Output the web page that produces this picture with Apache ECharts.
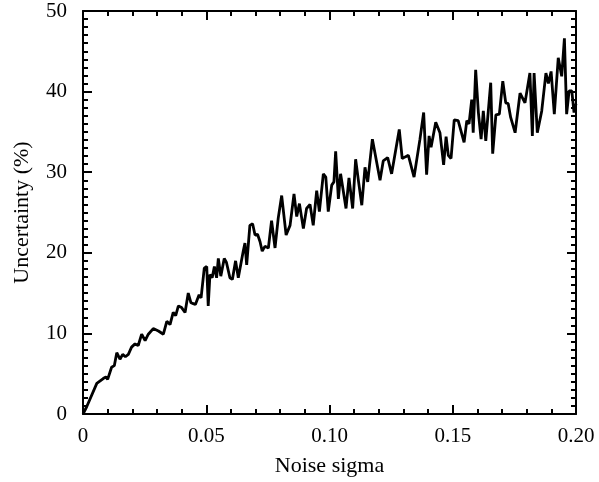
<!DOCTYPE html>
<html>
<head>
<meta charset="utf-8">
<script src="https://cdn.jsdelivr.net/npm/echarts@6/dist/echarts.min.js"></script>
<style>
  html, body { margin: 0; padding: 0; background: #fff; }
  #chart { width: 599px; height: 482px; }
</style>
</head>
<body>
<div id="chart"></div>
<script>
// noise sigma values (x)
var sigma = [
  0, 0.0015, 0.0056, 0.0082, 0.0093, 0.0100, 0.0116, 0.0127, 0.0137, 0.0150,
  0.0161, 0.0172, 0.0184, 0.0197, 0.0211, 0.0224, 0.0238, 0.0252, 0.0265, 0.0285,
  0.0306, 0.0326, 0.0340, 0.0353, 0.0366, 0.0376, 0.0387, 0.0400, 0.0414, 0.0427,
  0.0438, 0.0447, 0.0456, 0.0471, 0.0479, 0.0492, 0.0502, 0.0508, 0.0515, 0.0524,
  0.0533, 0.0542, 0.0549, 0.0559, 0.0573, 0.0582, 0.0596, 0.0606, 0.0619, 0.0630,
  0.0650, 0.0657, 0.0664, 0.0677, 0.0688, 0.0698, 0.0708, 0.0718, 0.0727, 0.0738,
  0.0752, 0.0765, 0.0779, 0.0792, 0.0806, 0.0824, 0.0840, 0.0856, 0.0867, 0.0878,
  0.0894, 0.0907, 0.0921, 0.0934, 0.0948, 0.0959, 0.0975, 0.0985, 0.0995, 0.1009,
  0.1018, 0.1025, 0.1036, 0.1045, 0.1067, 0.1079, 0.1094, 0.1106, 0.1118, 0.1131,
  0.1144, 0.1155, 0.1174, 0.1205, 0.1218, 0.1236, 0.1252, 0.1283, 0.1295, 0.1307,
  0.1320, 0.1343, 0.1367, 0.1382, 0.1394, 0.1404, 0.1412, 0.1431, 0.1448, 0.1463,
  0.1473, 0.1482, 0.1493, 0.1506, 0.1522, 0.1546, 0.1557, 0.1566, 0.1577, 0.1583,
  0.1593, 0.1604, 0.1615, 0.1624, 0.1634, 0.1654, 0.1662, 0.1675, 0.1689, 0.1703,
  0.1715, 0.1725, 0.1735, 0.1753, 0.1773, 0.1793, 0.1813, 0.1823, 0.1830, 0.1843,
  0.1861, 0.1878, 0.1888, 0.1899, 0.1912, 0.1928, 0.1942, 0.1953, 0.1962, 0.1972,
  0.1983, 0.1992, 0.2000
];
// uncertainty (%) at each sigma
var uncertainty = [
  0, 0.9, 3.8, 4.4, 4.6, 4.3, 5.8, 6.0, 7.6, 6.8,
  7.4, 7.1, 7.4, 8.3, 8.7, 8.5, 9.9, 9.1, 9.9, 10.6,
  10.3, 9.9, 11.5, 11.1, 12.6, 12.2, 13.4, 13.2, 12.6, 15.0,
  13.8, 13.7, 13.6, 14.8, 14.4, 18.1, 18.3, 13.4, 17.3, 16.9,
  18.3, 16.9, 19.3, 17.1, 19.3, 18.8, 16.9, 16.7, 19.0, 16.9,
  20.2, 21.2, 18.5, 23.4, 23.6, 22.2, 22.3, 21.4, 20.2, 20.8,
  20.6, 24.0, 20.6, 24.3, 27.1, 22.2, 23.4, 27.3, 24.5, 26.1,
  23.0, 25.5, 26.0, 23.4, 27.7, 25.1, 29.8, 29.4, 25.1, 28.4,
  28.8, 32.6, 26.7, 29.8, 25.5, 29.3, 25.5, 31.6, 28.8, 25.9,
  30.6, 28.8, 34.1, 29.0, 31.4, 31.8, 29.8, 35.3, 31.7, 31.9,
  32.1, 29.4, 34.1, 37.4, 29.7, 34.5, 33.1, 36.2, 34.9, 30.9,
  34.4, 32.1, 31.7, 36.5, 36.4, 33.7, 36.4, 36.0, 39.0, 34.9,
  42.7, 37.4, 34.1, 37.6, 33.9, 41.1, 32.3, 37.1, 37.2, 41.3,
  38.6, 38.5, 36.8, 34.9, 39.8, 38.6, 42.3, 34.5, 42.3, 34.9,
  37.6, 42.3, 41.0, 42.5, 37.2, 44.2, 41.9, 46.6, 37.2, 40.1,
  40.1, 37.4, 38.5
];
var xTicks = ['0', '0.05', '0.10', '0.15', '0.20'];

var font = "'Liberation Serif', 'Times New Roman', serif";
var points = [];
for (var i = 0; i < sigma.length; i++) {
  points.push([sigma[i], uncertainty[i]]);
}

function xAxisOpt(pos, showLabel) {
  return {
    type: 'value', position: pos, min: 0, max: 0.2, interval: 0.05,
    name: showLabel ? 'Noise sigma' : '',
    nameLocation: 'middle', nameGap: 41,
    nameTextStyle: { fontFamily: font, fontSize: 22, color: '#000' },
    axisLine: { show: true, onZero: false, lineStyle: { color: '#000', width: 2 } },
    axisTick: { show: true, inside: true, length: 9, lineStyle: { color: '#000', width: 2 } },
    minorTick: { show: true, splitNumber: 5, length: 5, lineStyle: { color: '#000', width: 2 } },
    splitLine: { show: false },
    axisLabel: {
      show: showLabel, margin: 12, fontFamily: font, fontSize: 21, color: '#000',
      formatter: function (v) { return xTicks[Math.round(v / 0.05)]; }
    }
  };
}
function yAxisOpt(pos, showLabel) {
  return {
    type: 'value', position: pos, min: 0, max: 50, interval: 10,
    name: showLabel ? 'Uncertainty (%)' : '',
    nameLocation: 'middle', nameGap: 50, nameRotate: 90,
    nameTextStyle: { fontFamily: font, fontSize: 22, color: '#000' },
    axisLine: { show: true, onZero: false, lineStyle: { color: '#000', width: 2 } },
    axisTick: { show: true, inside: true, length: 9, lineStyle: { color: '#000', width: 2 } },
    minorTick: { show: true, splitNumber: 10, length: 5, lineStyle: { color: '#000', width: 2 } },
    splitLine: { show: false },
    axisLabel: { show: showLabel, margin: 16, fontFamily: font, fontSize: 21, color: '#000' }
  };
}

var chart = echarts.init(document.getElementById('chart'));
chart.setOption({
  animation: false,
  backgroundColor: '#fff',
  grid: { left: 83, right: 23, top: 11, bottom: 65 },
  xAxis: [xAxisOpt('bottom', true), xAxisOpt('top', false)],
  yAxis: [yAxisOpt('left', true), yAxisOpt('right', false)],
  series: [{
    type: 'line',
    xAxisIndex: 0, yAxisIndex: 0,
    data: points,
    showSymbol: false,
    lineStyle: { color: '#000', width: 2.8 }
  }]
});
</script>
</body>
</html>
